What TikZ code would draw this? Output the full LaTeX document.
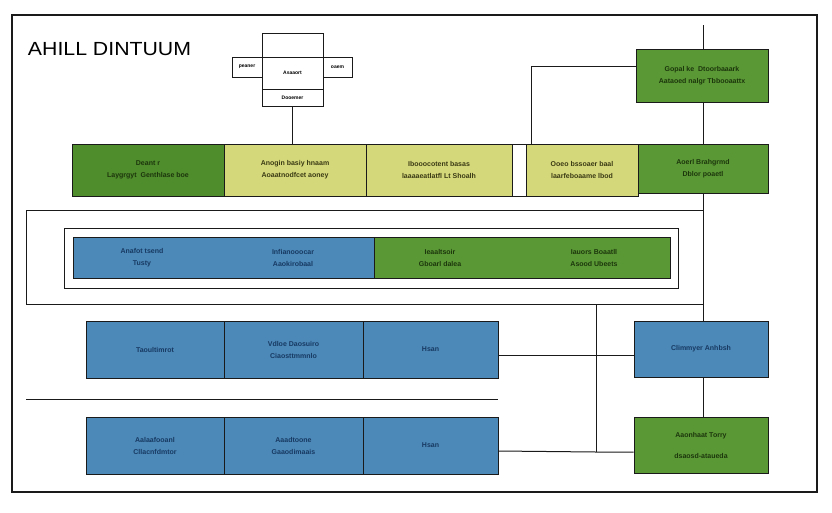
\documentclass[tikz,border=0pt]{standalone}
\usepackage{fontspec}
\setmainfont{Liberation Sans}
\usetikzlibrary{calc}
\definecolor{cblue}{HTML}{4C88B8}
\definecolor{cgreen}{HTML}{5A9835}
\definecolor{cgreendk}{HTML}{4F8C2C}
\definecolor{cyellow}{HTML}{D5D87A}
\definecolor{tblue}{HTML}{173A62}
\definecolor{tgreen}{HTML}{1C360C}
\definecolor{tyellow}{HTML}{3A3A14}
\definecolor{edge}{HTML}{1A1A1A}
\tikzset{
  cell/.style={draw=edge, line width=0.9pt, inner sep=0pt, align=center,
    font=\fontsize{7}{12}\selectfont\bfseries},
  bluecell/.style={cell, fill=cblue, text=tblue},
  greencell/.style={cell, fill=cgreen, text=tgreen},
  yellowcell/.style={cell, fill=cyellow, text=tyellow},
  whitecell/.style={cell, fill=white, text=black, font=\fontsize{5}{7}\selectfont\bfseries},
  bartext/.style={font=\fontsize{7}{12}\selectfont\bfseries, align=center},
  link/.style={draw=edge, line width=1pt},
  frame/.style={draw=edge, line width=1pt}
}
\begin{document}
\begin{tikzpicture}[x=1pt,y=-1pt]
\useasboundingbox (0,0) rectangle (832,512);
\fill[white] (0,0) rectangle (832,512);

% outer frame and title
\draw[edge, line width=2pt] (12,15) rectangle (817,492);
\node[anchor=west, font=\fontsize{19}{21}\selectfont, text=black, xscale=1.12, transform shape] (title) at (24,49) {AHILL DINTUUM};

% small entity at the top
\node[whitecell, minimum width=61pt, minimum height=24pt] (tctop) at (292.5,45) {};
\node[whitecell, minimum width=61pt, minimum height=32pt] (tcmid) at (292.5,73) {Asaaort};
\node[whitecell, minimum width=61pt, minimum height=17pt] (tcb) at (292.5,97.5) {Dooemer};
\node[whitecell, minimum width=30pt, minimum height=20pt] (tcl) at (247,67) {peaner};
\node[whitecell, minimum width=29pt, minimum height=20pt] (tcr) at (337.5,67) {oaem};

% top-right box
\node[greencell, minimum width=132pt, minimum height=53pt] (tr) at (702,75.5) {Gopal ke \ Dtoorbaaark\\Aataoed nalgr Tbbooaattx};

% first row
\node[greencell, fill=cgreendk, minimum width=152pt, minimum height=52pt] (r1a) at (148,170) {Deant r\\Laygrgyt \ Genthlase boe};
\node[yellowcell, minimum width=142pt, minimum height=52pt] (r1b) at (295,170) {Anogin basiy hnaam\\Aoaatnodfcet aoney};
\node[yellowcell, minimum width=146pt, minimum height=52pt] (r1c) at (439,170) {Ibooocotent basas\\laaaaeatlatfl Lt Shoalh};
\node[cell, fill=white, minimum width=14pt, minimum height=52pt] (r1gap) at (519,170) {};
\node[yellowcell, minimum width=112pt, minimum height=52pt] (r1d) at (582,170) {Ooeo bssoaer baal\\laarfeboaame lbod};
\node[greencell, minimum width=130pt, minimum height=49pt] (r1e) at (703,168.5) {Aoerl Brahgrmd\\Dblor poaetl};

% container with the banded bar
\draw[frame] (26,210) rectangle (703,304);
\draw[frame] (64,228) rectangle (678,288);
\node[bluecell, minimum width=301pt, minimum height=41pt] (barb) at (223.5,257.5) {};
\node[greencell, minimum width=296pt, minimum height=41pt] (barg) at (522,257.5) {};
\node[bartext, text=tblue] (b1) at (142,257.5) {Anafot tsend\\Tusty};
\node[bartext, text=tblue] (b2) at (293,257.5) {Infianooocar\\Aaokirobaal};
\node[bartext, text=tgreen] (g1) at (440,257.5) {Ieaaltsoir\\Gboarl dalea};
\node[bartext, text=tgreen] (g2) at (594,257.5) {Iauors Boaatll\\Asood Ubeets};

% second row
\node[bluecell, minimum width=138pt, minimum height=57pt] (r2a) at (155,349.5) {Taoultimrot};
\node[bluecell, minimum width=139pt, minimum height=57pt] (r2b) at (293.5,349.5) {Vdloe Daosuiro\\Ciaosttmmnlo};
\node[bluecell, minimum width=135pt, minimum height=57pt] (r2c) at (430.5,349.5) {Hsan};

\draw[link] (26,399) -- (498,399);

% third row
\node[bluecell, minimum width=138pt, minimum height=57pt] (r3a) at (155,445.5) {Aalaafooanl\\Cllacnfdmtor};
\node[bluecell, minimum width=139pt, minimum height=57pt] (r3b) at (293.5,445.5) {Aaadtoone\\Gaaodimaais};
\node[bluecell, minimum width=135pt, minimum height=57pt] (r3c) at (430.5,445.5) {Hsan};

% right column
\node[bluecell, minimum width=134pt, minimum height=56pt] (cA) at (701,349) {Climmyer Anhbsh};
\node[greencell, minimum width=134pt, minimum height=56pt, align=center] (cG) at (701,445) {Aaonhaat Torry\\[9pt]dsaosd-ataueda};

% connectors
\coordinate (ktop) at (703,25);
\coordinate (k1) at (531,66);
\coordinate (kc) at (703,210);
\coordinate (kb) at (703,304);
\coordinate (kv) at (596,304);
\coordinate (kv2) at (596,452);
\draw[link] (tcb.south) -- (tcb.south |- r1b.north);
\draw[link] (tr.west |- k1) -- (k1) -- (k1 |- r1d.north);
\draw[link] (ktop) -- (ktop |- tr.north);
\draw[link] (tr.south -| ktop) -- (r1e.north -| ktop);
\draw[link] (r1e.south -| ktop) -- (kc);
\draw[link] (kb) -- (kb |- cA.north);
\draw[link] (kv) -- (kv2);
\draw[link] (r2c.east |- 0,355) -- (cA.west |- 0,355);
\draw[link] (r3c.east |- 0,451) -- (kv2) -- (cG.west |- kv2);
\draw[link] (cA.south -| ktop) -- (cG.north -| ktop);
\end{tikzpicture}
\end{document}
